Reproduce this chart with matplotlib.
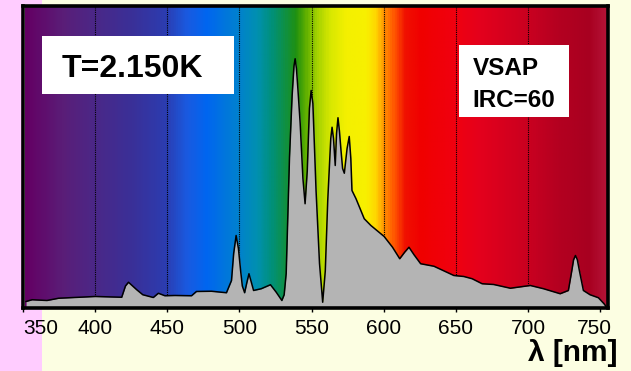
import numpy as np
import matplotlib
matplotlib.use("Agg")
import matplotlib.pyplot as plt
import matplotlib.transforms as mtransforms
from matplotlib.colors import LinearSegmentedColormap
from matplotlib.patches import Rectangle

plt.rcParams['font.family'] = ['Liberation Sans', 'DejaVu Sans']

# spectral power distribution of the lamp (relative, main peak = 100)
wavelength = [352.1, 356.3, 366.6, 374.7, 400.0, 418.4, 421.0, 423.1, 425.0, 428.8,
              433.0, 440.3, 443.8, 448.3, 455.2, 466.8, 470.2, 480.6, 487.5, 491.0,
              494.5, 496.0, 497.7, 499.3, 500.8, 502.0, 503.6, 505.0, 506.6, 508.0,
              509.8, 515.1, 521.5, 525.5, 529.4, 531.0, 532.4, 534.7, 536.5, 537.8,
              538.6, 539.5, 540.5, 542.1, 544.0, 545.5, 547.0, 548.5, 549.7, 550.9,
              553.1, 555.5, 557.7, 559.5, 561.2, 563.3, 564.2, 565.2, 566.4, 567.3,
              568.3, 569.3, 570.4, 571.5, 572.7, 574.6, 576.1, 577.2, 578.0, 580.8,
              586.5, 591.1, 600.3, 606.1, 611.1, 614.5, 617.5, 621.0, 625.6, 634.8,
              648.6, 655.5, 661.3, 668.2, 676.2, 687.8, 701.6, 710.8, 722.3, 728.0,
              730.4, 731.6, 732.9, 734.2, 735.6, 738.4, 743.0, 748.8, 752.7, 754.1]
intensity = [2.8, 3.5, 3.2, 4.1, 4.8, 4.5, 9.0, 10.5, 9.5, 7.5,
             5.5, 4.4, 6.1, 5.1, 5.2, 5.1, 6.8, 6.9, 6.5, 6.3,
             11.2, 22.0, 29.2, 24.0, 15.2, 9.0, 6.3, 10.0, 13.9, 11.0,
             7.2, 7.9, 9.5, 6.5, 3.2, 5.5, 14.0, 60.5, 85.0, 97.0,
             99.9, 96.0, 88.0, 74.0, 52.0, 41.9, 55.0, 80.0, 87.2, 82.0,
             47.2, 18.0, 2.5, 15.0, 43.2, 68.0, 72.5, 68.0, 57.2, 70.0,
             76.3, 71.0, 63.2, 56.0, 54.1, 64.0, 68.8, 60.0, 47.2, 43.9,
             35.9, 33.2, 28.8, 24.5, 19.9, 22.5, 24.5, 21.5, 17.9, 16.9,
             13.2, 12.8, 11.9, 9.9, 9.6, 8.1, 9.2, 7.9, 5.9, 7.2,
             15.2, 19.5, 21.2, 19.5, 15.2, 7.2, 5.5, 4.3, 1.9, 0.8]

tick_values = [350, 400, 450, 500, 550, 600, 650, 700, 750]
grid_values = [400, 450, 500, 550, 600, 650, 700]

# colour of the visible spectrum behind the curve
spectrum_stops = [(351.4, '#640064'), (377, '#5a1e78'), (400, '#4a2888'),
                  (425, '#3a3098'), (448, '#2c3cb0'), (463, '#1a5ae0'),
                  (477, '#0066f0'), (498, '#0080d0'), (512, '#0090b0'),
                  (522, '#00907a'), (532, '#109040'), (539, '#209010'),
                  (546, '#60b000'), (553, '#a0d000'), (563, '#d8e800'),
                  (574, '#f4f000'), (588, '#f8f000'), (594.5, '#ffd800'),
                  (601, '#ff8800'), (608, '#ff5000'), (615, '#f01000'),
                  (626, '#f00000'), (650, '#f00010'), (667, '#e4001c'),
                  (702, '#c80020'), (722, '#b40020'), (743, '#a80020'),
                  (755.7, '#b41438')]

xmin, xmax = 351.4, 755.7
ymin, ymax = 0, 120.8

fig = plt.figure(figsize=(6.31, 3.71), dpi=100, facecolor='#fcfee2')
fig.patches.append(Rectangle((0, 0), 42 / 631, 1, transform=fig.transFigure,
                             facecolor='#ffccff', edgecolor='none', zorder=-1))
ax = fig.add_axes([0.0365, 0.1685, 0.9276, 0.814])

cmap = LinearSegmentedColormap.from_list(
    'spectrum', [((w - xmin) / (xmax - xmin), c) for w, c in spectrum_stops])
ax.imshow(np.linspace(0, 1, 600)[None, :], cmap=cmap, aspect='auto',
          extent=(xmin, xmax, ymin, ymax), zorder=0, interpolation='bilinear')

for g in grid_values:
    ax.axvline(g, color='black', linestyle=(0, (1, 1)), linewidth=0.8, zorder=0.5)

ax.fill_between(wavelength, intensity, 0, color='#b4b4b4', zorder=1, linewidth=0)
ax.plot(wavelength, intensity, color='black', linewidth=1.1, zorder=2,
        solid_joinstyle='round')

ax.set_xlim(xmin, xmax)
ax.set_ylim(ymin, ymax)
ax.set_yticks([])
ax.set_xticks(tick_values)
ax.set_xticklabels([str(t) for t in tick_values])
ax.tick_params(axis='x', direction='out', length=3, width=1, pad=4.5,
               labelsize=15, colors='black')
for s in ax.spines.values():
    s.set_linewidth(2.6)
    s.set_color('black')

labels = ax.get_xticklabels()
labels[0].set_transform(labels[0].get_transform() +
                        mtransforms.ScaledTranslation(0.18, 0, fig.dpi_scale_trans))
labels[-1].set_transform(labels[-1].get_transform() +
                         mtransforms.ScaledTranslation(-0.06, 0, fig.dpi_scale_trans))

# info boxes
ax.add_patch(Rectangle((0.032, 0.711), 0.3286, 0.191, transform=ax.transAxes,
                       facecolor='white', edgecolor='none', zorder=5))
ax.text(0.0661, 0.7656, 'T=2.150K', transform=ax.transAxes, ha='left',
        va='baseline', fontsize=23, fontweight='bold', zorder=6)

ax.add_patch(Rectangle((0.745, 0.635), 0.188, 0.2374, transform=ax.transAxes,
                       facecolor='white', edgecolor='none', zorder=5))
ax.text(0.7683, 0.773, 'VSAP', transform=ax.transAxes, ha='left',
        va='baseline', fontsize=17.5, fontweight='bold', zorder=6)
ax.text(0.7683, 0.668, 'IRC=60', transform=ax.transAxes, ha='left',
        va='baseline', fontsize=17.5, fontweight='bold', zorder=6)

fig.text(617 / 631, 1 - 361 / 371, 'λ [nm]', ha='right', va='baseline',
         fontsize=21.5, fontweight='bold')

fig.savefig('out.png', dpi=100, facecolor=fig.get_facecolor())
